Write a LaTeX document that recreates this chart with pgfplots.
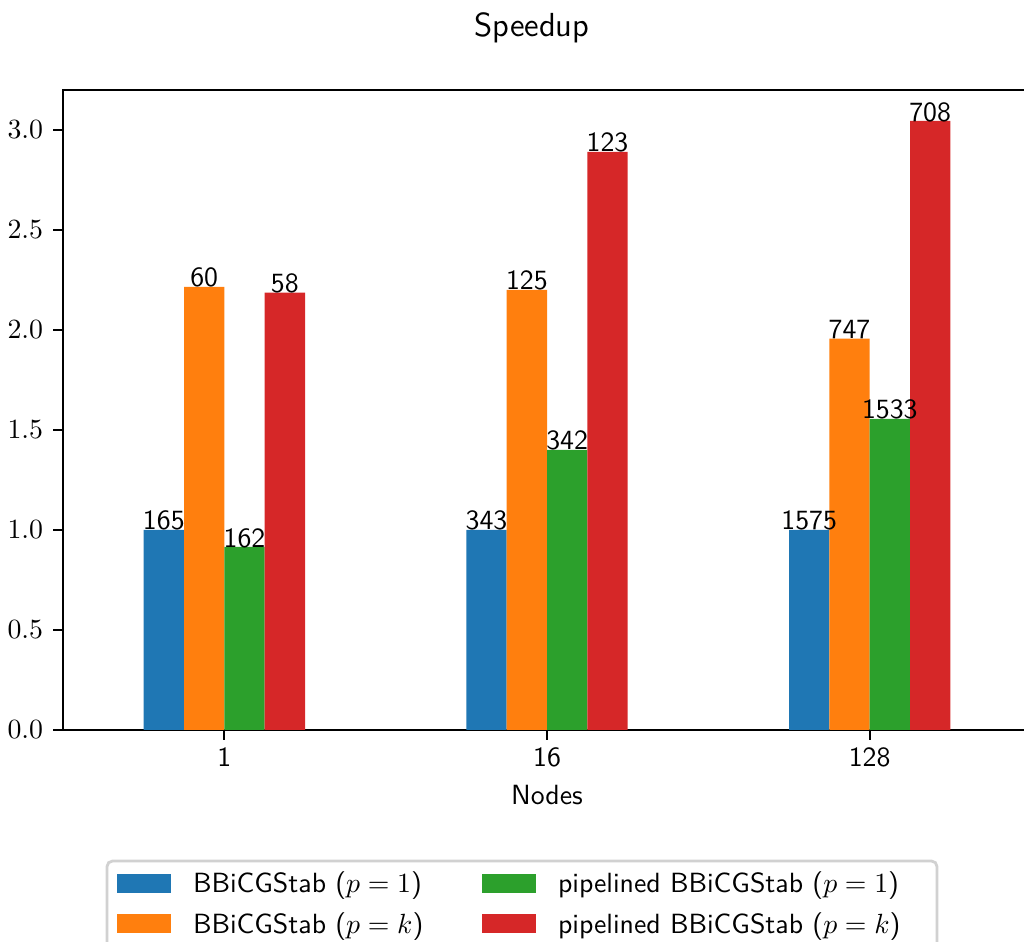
\documentclass[border=0pt]{standalone}
\usepackage{pgfplots}
\pgfplotsset{compat=1.18}
\definecolor{c0}{HTML}{1F77B4}
\definecolor{c1}{HTML}{FF7F0E}
\definecolor{c2}{HTML}{2CA02C}
\definecolor{c3}{HTML}{D62728}
\begin{document}
\begin{tikzpicture}
\begin{axis}[
  at={(0,0)}, anchor=south west,
  scale only axis, width=348.48pt, height=230.4pt,
  xmin=-0.5, xmax=2.5, ymin=0, ymax=3.2,
  axis line style={line width=0.8pt},
  every tick/.style={line width=0.8pt, black},
  major tick length=3.5pt,
  tick align=outside,
  xtick={0,1,2}, xticklabels={1,16,128},
  ytick={0,0.5,1.0,1.5,2.0,2.5,3.0},
  yticklabel={\pgfmathprintnumber[fixed,fixed zerofill,precision=1]{\tick}},
  xtick pos=bottom, ytick pos=left,
  xticklabel style={anchor=base, yshift=-9.46pt, inner sep=0pt, font=\sffamily},
  yticklabel style={anchor=east, xshift=-3.5pt, inner sep=0pt},
  xlabel={Nodes},
  xlabel style={at={(axis description cs:0.5,0)}, anchor=base, yshift=-27pt, inner sep=0pt, font=\sffamily},
  title={Speedup},
  title style={at={(axis description cs:0.4845,1)}, anchor=base, yshift=13.08pt, inner sep=0pt, font=\sffamily\fontsize{12}{14}\selectfont},
  ybar, bar width=0.125,
  nodes near coords, point meta=explicit symbolic,
  every node near coord/.append style={anchor=base, inner sep=0pt, font=\sffamily},
  legend columns=2, transpose legend,
  legend image code/.code={\fill[#1, sharp corners] (0pt,0pt) rectangle (19.44pt,6.84pt); \path (27.36pt,0pt);},
  legend style={at={(0.04545,-0.2047)}, anchor=north west, draw=black!18, line width=1pt, rounded corners=2pt,
    inner xsep=3.6pt, inner ysep=4pt, outer sep=0pt, font=\sffamily,
    nodes={inner sep=0pt, anchor=base west}, row sep=5.5pt, column sep=0pt},
]
\addplot[fill=c0, draw=none, bar shift=-0.1875] coordinates {(0,1.0) [165] (1,1.0) [343] (2,1.0) [1575]};
\addlegendentry{\makebox[104.04pt][l]{BBiCGStab ($p=1$)}}
\addplot[fill=c1, draw=none, bar shift=-0.0625] coordinates {(0,2.215) [60] (1,2.2) [125] (2,1.957) [747]};
\addlegendentry{\makebox[104.04pt][l]{BBiCGStab ($p=k$)}}
\addplot[fill=c2, draw=none, bar shift=0.0625] coordinates {(0,0.915) [162] (1,1.4) [342] (2,1.555) [1533]};
\addlegendentry{\makebox[132.84pt][l]{pipelined BBiCGStab ($p=1$)}}
\addplot[fill=c3, draw=none, bar shift=0.1875] coordinates {(0,2.187) [58] (1,2.89) [123] (2,3.045) [708]};
\addlegendentry{\makebox[132.84pt][l]{pipelined BBiCGStab ($p=k$)}}
\end{axis}
\pgfresetboundingbox
\path[use as bounding box] (-22.68pt,-76.32pt) rectangle (345.96pt,262.8pt);
\end{tikzpicture}
\end{document}
